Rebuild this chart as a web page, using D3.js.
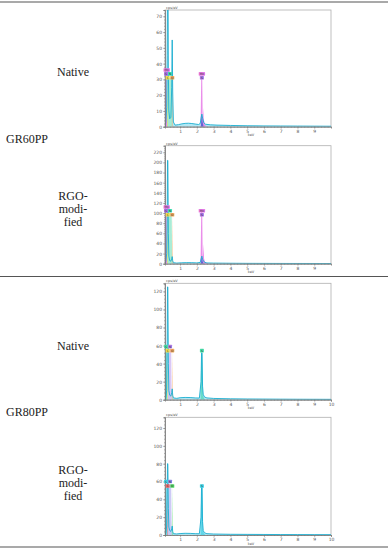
<!DOCTYPE html>
<html>
<head>
<meta charset="utf-8">
<script src="https://cdn.jsdelivr.net/npm/d3@7"></script>
<style>
body { margin: 0; background: #fff; }
</style>
</head>
<body>
<div id="chart"></div>
<script>
var width = 388;
var height = 550;

var serifFont = "'Liberation Serif', 'DejaVu Serif', 'Noto Serif', 'Times New Roman', Times, serif";
var smallFont = "'DejaVu Sans', sans-serif";

var rowNames = ["GR60PP", "GR80PP"];
var sampleNames = [["Native"], ["RGO-", "modi-", "fied"], ["Native"], ["RGO-", "modi-", "fied"]];

var yMaxes = [74, 233, 129, 132];
var yMajorSteps = [10, 20, 20, 20];
var xLastTick = [9, 9, 10, 10];

// total spectra, [keV, cps/eV]
var spectrum60Native = [[0.1,0],[0.15,3],[0.2,12],[0.23,45],[0.25,90],[0.28,90],[0.3,35],[0.33,10],[0.38,5],[0.45,6],[0.5,25],[0.53,55],[0.56,22],[0.6,3],[0.7,1],[0.9,1.3],[1.1,1.8],[1.3,2.1],[1.5,2.2],[1.7,2],[1.9,1.7],[2.1,1.4],[2.2,2],[2.26,6],[2.3,8],[2.35,5],[2.42,2.5],[2.5,1.6],[2.8,1.2],[3.2,1],[4,0.8],[5,0.6],[6,0.5],[7,0.45],[8,0.4],[9,0.35],[10,0.3]];
var spectrum60Rgo = [[0.1,0],[0.15,5],[0.2,20],[0.23,90],[0.25,204],[0.27,204],[0.3,60],[0.33,15],[0.38,6],[0.45,5],[0.5,10],[0.53,14],[0.56,6],[0.6,2],[0.8,1.2],[1.1,1.8],[1.4,2.1],[1.7,2],[2.0,1.6],[2.2,2.5],[2.27,12],[2.3,15],[2.35,8],[2.45,3],[2.6,1.5],[3,1.2],[4,0.9],[5,0.7],[6,0.6],[7,0.5],[8,0.45],[9,0.4],[10,0.35]];
var spectrum80Native = [[0.1,0],[0.15,3],[0.2,10],[0.23,60],[0.25,125],[0.27,125],[0.3,40],[0.33,10],[0.38,5],[0.45,4],[0.5,8],[0.53,12],[0.56,5],[0.6,2],[0.8,1.5],[1.0,2.2],[1.3,2.5],[1.6,2.4],[1.9,2],[2.15,1.8],[2.25,20],[2.28,52],[2.31,52],[2.34,15],[2.38,6],[2.45,3],[2.6,2],[3,1.4],[4,1],[5,0.8],[6,0.7],[7,0.6],[8,0.5],[9,0.45],[10,0.4]];
var spectrum80Rgo = [[0.1,0],[0.15,3],[0.2,10],[0.23,45],[0.25,80],[0.27,80],[0.3,30],[0.33,9],[0.38,5],[0.45,4],[0.5,7],[0.53,10],[0.56,4],[0.6,1.5],[0.8,1.2],[1.0,1.6],[1.3,1.9],[1.6,1.8],[1.9,1.5],[2.15,1.4],[2.25,20],[2.28,55],[2.31,55],[2.34,15],[2.38,5],[2.45,2.5],[2.6,1.5],[3,1.1],[4,0.8],[5,0.7],[6,0.6],[7,0.5],[8,0.45],[9,0.4],[10,0.35]];

// element fits, [element, points]
var fits60Native = [
  ["Mo", [[0.1,0],[0.11,34],[0.2,35],[0.22,0]]],
  ["N", [[0.22,0],[0.24,31],[0.5,31],[0.53,0]]],
  ["C", [[0.24,0],[0.26,31],[0.28,0]]],
  ["O", [[0.51,0],[0.53,31],[0.55,0]]],
  ["Mo", [[2.22,0],[2.26,31],[2.32,31],[2.35,3],[2.38,12],[2.41,5],[2.48,1],[2.6,0]]],
  ["S", [[2.24,0],[2.29,8],[2.34,3],[2.4,0]]]
];
var fits60Rgo = [
  ["Mo", [[0.1,0],[0.11,108],[0.2,110],[0.22,0]]],
  ["N", [[0.22,0],[0.24,100],[0.5,100],[0.53,0]]],
  ["C", [[0.24,0],[0.26,100],[0.28,0]]],
  ["O", [[0.51,0],[0.53,98],[0.55,0]]],
  ["Mo", [[2.22,0],[2.26,102],[2.32,102],[2.35,5],[2.39,39],[2.43,10],[2.5,3],[2.7,0]]],
  ["S", [[2.24,0],[2.29,15],[2.34,5],[2.4,0]]]
];
var fits80Native = [
  ["S", [[0.1,0],[0.11,57],[0.2,57],[0.22,0]]],
  ["N", [[0.28,0],[0.3,57],[0.47,57],[0.5,0]]],
  ["C", [[0.24,0],[0.26,54],[0.28,0]]],
  ["O", [[0.51,0],[0.53,54],[0.55,0]]],
  ["S", [[2.22,0],[2.26,51],[2.32,51],[2.36,4],[2.45,1],[2.5,0]]]
];
var fits80Rgo = [
  ["S", [[0.1,0],[0.11,57],[0.2,57],[0.22,0]]],
  ["N", [[0.28,0],[0.3,57],[0.47,57],[0.5,0]]],
  ["C", [[0.24,0],[0.26,54],[0.28,0]]],
  ["O", [[0.51,0],[0.53,54],[0.55,0]]],
  ["S", [[2.22,0],[2.26,54],[2.32,54],[2.36,4],[2.45,1],[2.5,0]]]
];

// peak markers, [element, keV, cps/eV]
var labels60Native = [["Mo",0.2,36],["S",0.16,33.5],["N",0.4,33.5],["C",0.26,31],["O",0.535,31],["Mo",2.3,33.5],["S",2.3,31]];
var labels60Rgo = [["Mo",0.2,112],["S",0.16,104.5],["N",0.4,104.5],["C",0.26,96.6],["O",0.535,96.6],["Mo",2.3,104.5],["S",2.3,96.6]];
var labels80Native = [["S",0.16,59],["N",0.4,59],["C",0.26,54.4],["O",0.535,54.4],["S",2.3,54.4]];
var labels80Rgo = [["S",0.16,60],["N",0.4,60],["C",0.26,55],["O",0.535,55],["S",2.3,55]];

var colors60 = {Mo: "#e67ae6", S: "#a874e6", N: "#3fe0b2", C: "#f3e04c", O: "#f4a95c"};
var fillColors60 = {Mo: "#e67ae6", S: "#4a5fd0", N: "#9be9cf", C: "#f3e04c", O: "#f4a95c"};
var colors80 = {S: "#48dfaa", N: "#b27ae6", C: "#f3e04c", O: "#f4a95c"};
var fillColors80 = {S: "#5ad9bf", N: "#d4bdf3", C: "#f3e04c", O: "#f4a95c"};
var colors80r = {S: "#3fd3e6", N: "#8a86e2", C: "#f06a6a", O: "#52d964"};
var fillColors80r = {S: "#52d3e6", N: "#c3c1f3", C: "#f06a6a", O: "#5fe070"};

var panels = [
  {top: 10, bottom: 126.7, spec: spectrum60Native, fits: fits60Native, labels: labels60Native, colors: colors60, fills: fillColors60, textY: [76]},
  {top: 145.7, bottom: 263.7, spec: spectrum60Rgo, fits: fits60Rgo, labels: labels60Rgo, colors: colors60, fills: fillColors60, textY: [200, 213, 226]},
  {top: 283.3, bottom: 399.7, spec: spectrum80Native, fits: fits80Native, labels: labels80Native, colors: colors80, fills: fillColors80, textY: [350]},
  {top: 417.3, bottom: 535, spec: spectrum80Rgo, fits: fits80Rgo, labels: labels80Rgo, colors: colors80r, fills: fillColors80r, textY: [474, 487, 500]}
];

var plotLeft = 165, plotRight = 331;

var svg = d3.select("#chart")
  .append("svg")
  .attr("width", width)
  .attr("height", height);

// table rules
[2, 276.5, 547].forEach(function(y) {
  svg.append("line")
    .attr("x1", 0).attr("x2", width)
    .attr("y1", y).attr("y2", y)
    .attr("stroke", "#555")
    .attr("stroke-width", 1.2);
});

// row names
var rowY = [143, 416];
rowNames.forEach(function(name, i) {
  svg.append("text")
    .attr("x", 6).attr("y", rowY[i])
    .style("font-family", serifFont)
    .style("font-size", "12px")
    .attr("fill", "#222")
    .text(name);
});

var x = d3.scaleLinear().domain([0.1, 10]).range([plotLeft, plotRight]);

panels.forEach(function(p, i) {
  // sample label
  sampleNames[i].forEach(function(line, j) {
    svg.append("text")
      .attr("x", 73).attr("y", p.textY[j])
      .attr("text-anchor", "middle")
      .style("font-family", serifFont)
      .style("font-size", "12px")
      .attr("fill", "#222")
      .text(line);
  });

  var y = d3.scaleLinear().domain([0, yMaxes[i]]).range([p.bottom, p.top]);
  var g = svg.append("g");

  var clipId = "clip" + i;
  svg.append("clipPath").attr("id", clipId)
    .append("rect")
    .attr("x", plotLeft).attr("y", p.top)
    .attr("width", plotRight - plotLeft).attr("height", p.bottom - p.top);

  g.append("rect")
    .attr("x", plotLeft).attr("y", p.top)
    .attr("width", plotRight - plotLeft).attr("height", p.bottom - p.top)
    .attr("fill", "none")
    .attr("stroke", "#b0b0b0")
    .attr("stroke-width", 0.8);

  var area = d3.area()
    .x(function(d) { return x(d[0]); })
    .y0(y(0))
    .y1(function(d) { return y(d[1]); });
  var line = d3.line()
    .x(function(d) { return x(d[0]); })
    .y(function(d) { return y(d[1]); });

  var plot = g.append("g").attr("clip-path", "url(#" + clipId + ")");

  plot.append("path")
    .datum(p.spec)
    .attr("d", area)
    .attr("fill", "#9fe2f1")
    .attr("opacity", 0.8);

  p.fits.forEach(function(f) {
    plot.append("path")
      .datum(f[1])
      .attr("d", area)
      .attr("fill", p.fills[f[0]])
      .attr("opacity", 0.85);
  });

  plot.append("path")
    .datum(p.spec)
    .attr("d", line)
    .attr("fill", "none")
    .attr("stroke", "#1aaed0")
    .attr("stroke-width", 0.9);

  // axes
  var step = yMajorSteps[i];
  var majors = d3.range(0, yMaxes[i] + 0.01, step);
  var minors = d3.range(0, yMaxes[i] + 0.01, step / 5);

  var yMinor = g.append("g")
    .attr("transform", "translate(" + plotLeft + ",0)")
    .call(d3.axisLeft(y).tickValues(minors).tickSize(1).tickFormat(""));
  var yMajor = g.append("g")
    .attr("transform", "translate(" + plotLeft + ",0)")
    .call(d3.axisLeft(y).tickValues(majors).tickSize(2).tickPadding(1).tickFormat(d3.format("d")));

  var xMinor = g.append("g")
    .attr("transform", "translate(0," + p.bottom + ")")
    .call(d3.axisBottom(x).tickValues(d3.range(0.2, 10.01, 0.2)).tickSize(1).tickFormat(""));
  var xMajor = g.append("g")
    .attr("transform", "translate(0," + p.bottom + ")")
    .call(d3.axisBottom(x).tickValues(d3.range(1, xLastTick[i] + 1)).tickSize(2).tickPadding(1).tickFormat(d3.format("d")));

  [yMinor, yMajor, xMinor, xMajor].forEach(function(a) {
    a.attr("font-family", smallFont).attr("font-size", 4.5);
    a.select(".domain").attr("stroke", "#777").attr("stroke-width", 0.6);
    a.selectAll(".tick line").attr("stroke", "#777").attr("stroke-width", 0.5);
    a.selectAll(".tick text").attr("fill", "#555");
  });

  g.append("text")
    .attr("x", plotLeft + 1).attr("y", p.top - 1)
    .attr("font-family", smallFont)
    .attr("font-size", 3.5)
    .attr("fill", "#555")
    .text("cps/eV");

  g.append("text")
    .attr("x", (plotLeft + plotRight) / 2 + 3).attr("y", p.bottom + 9.5)
    .attr("text-anchor", "middle")
    .attr("font-family", smallFont)
    .attr("font-size", 3.5)
    .attr("fill", "#555")
    .text("keV");

  // element markers
  p.labels.forEach(function(l) {
    var w = l[0].length * 2.4 + 1.6, h = 3.6;
    var cx = x(l[1]), cy = y(l[2]);
    g.append("rect")
      .attr("x", cx - w / 2).attr("y", cy - h / 2)
      .attr("width", w).attr("height", h)
      .attr("rx", 0.6)
      .attr("fill", p.colors[l[0]]);
    g.append("text")
      .attr("x", cx).attr("y", cy + 1.1)
      .attr("text-anchor", "middle")
      .attr("font-family", smallFont)
      .attr("font-size", 3)
      .attr("fill", "#333")
      .text(l[0]);
  });
});
</script>
</body>
</html>
